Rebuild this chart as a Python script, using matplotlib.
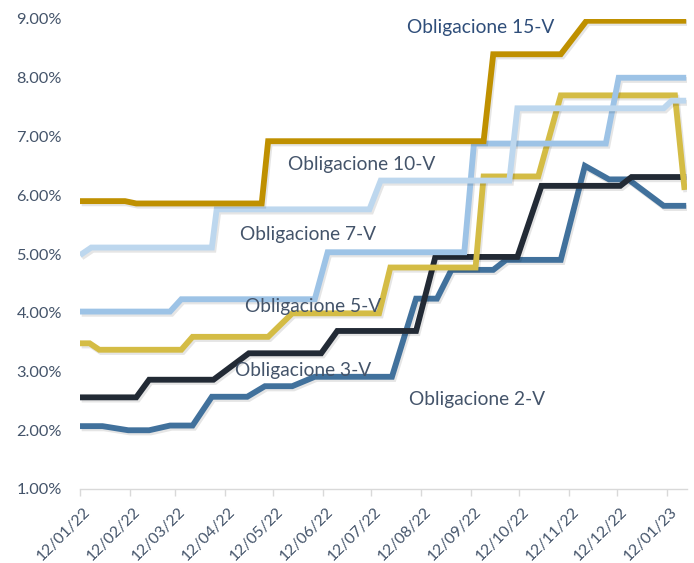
import matplotlib
matplotlib.use("Agg")
import matplotlib.pyplot as plt
import matplotlib.dates as mdates
import matplotlib.patheffects as pe
import matplotlib.transforms as mtransforms
import pandas as pd

plt.rcParams['font.family'] = ['Lato', 'DejaVu Sans']

# --- data (breakpoints) ---
dates_2v = ["2022-01-12", "2022-01-26", "2022-02-11", "2022-02-24", "2022-03-09", "2022-03-23",
            "2022-04-04", "2022-04-26", "2022-05-07", "2022-05-24", "2022-06-07", "2022-07-25",
            "2022-08-09", "2022-08-22", "2022-08-31", "2022-09-26", "2022-10-04", "2022-11-07",
            "2022-11-22", "2022-12-07", "2022-12-19", "2023-01-10", "2023-01-24"]
vals_2v = [2.07, 2.07, 2.00, 2.00, 2.08, 2.08,
           2.57, 2.57, 2.75, 2.75, 2.91, 2.91,
           4.24, 4.24, 4.73, 4.73, 4.90, 4.90,
           6.50, 6.27, 6.27, 5.82, 5.82]

dates_3v = ["2022-01-12", "2022-02-16", "2022-02-24", "2022-04-05", "2022-04-27", "2022-06-11",
            "2022-06-21", "2022-08-09", "2022-08-21", "2022-10-11", "2022-10-26", "2022-12-14",
            "2022-12-21", "2023-01-24"]
vals_3v = [2.56, 2.56, 2.86, 2.86, 3.31, 3.31,
           3.69, 3.69, 4.95, 4.95, 6.16, 6.16,
           6.31, 6.31]

dates_5v = ["2022-01-12", "2022-01-18", "2022-01-24", "2022-03-16", "2022-03-23", "2022-05-09",
            "2022-05-24", "2022-07-17", "2022-07-24", "2022-09-15", "2022-09-20", "2022-10-24",
            "2022-11-07", "2023-01-17", "2023-01-23"]
vals_5v = [3.48, 3.48, 3.37, 3.37, 3.59, 3.59,
           3.99, 3.99, 4.77, 4.77, 6.32, 6.32,
           7.70, 7.70, 6.09]

dates_7v = ["2022-01-12", "2022-03-09", "2022-03-16", "2022-06-07", "2022-06-15", "2022-09-08",
            "2022-09-14", "2022-12-05", "2022-12-13", "2023-01-24"]
vals_7v = [4.02, 4.02, 4.23, 4.23, 5.03, 5.03,
           6.88, 6.88, 8.00, 8.00]

dates_10v = ["2022-01-12", "2022-01-19", "2022-04-04", "2022-04-07", "2022-07-11", "2022-07-18",
             "2022-10-06", "2022-10-11", "2023-01-10", "2023-01-15", "2023-01-24"]
vals_10v = [4.98, 5.11, 5.11, 5.76, 5.76, 6.25,
            6.25, 7.48, 7.48, 7.61, 7.61]

dates_15v = ["2022-01-12", "2022-02-09", "2022-02-16", "2022-05-05", "2022-05-09", "2022-09-20",
             "2022-09-26", "2022-11-07", "2022-11-23", "2023-01-24"]
vals_15v = [5.90, 5.90, 5.86, 5.86, 6.92, 6.92,
            8.40, 8.40, 8.97, 8.97]

series_names = ["Obligacione 2-V", "Obligacione 3-V", "Obligacione 5-V",
                "Obligacione 7-V", "Obligacione 10-V", "Obligacione 15-V"]
series_dates = [dates_2v, dates_3v, dates_5v, dates_7v, dates_10v, dates_15v]
series_vals = [vals_2v, vals_3v, vals_5v, vals_7v, vals_10v, vals_15v]
colors = ["#41719C", "#222A35", "#D4BC45", "#9DC3E6", "#BDD7EE", "#BF9000"]

tick_dates = ["2022-01-12", "2022-02-12", "2022-03-12", "2022-04-12", "2022-05-12",
              "2022-06-12", "2022-07-12", "2022-08-12", "2022-09-12", "2022-10-12",
              "2022-11-12", "2022-12-12", "2023-01-12"]

# label positions (data coords) and colours
label_pos = [("2022-09-16", 2.52), ("2022-05-31", 3.01), ("2022-06-06", 4.11),
             ("2022-06-03", 5.33), ("2022-07-06", 6.53), ("2022-09-18", 8.86)]
label_colors = ["#44546A", "#44546A", "#44546A", "#44546A", "#44546A", "#2F4E7A"]

fig = plt.figure(figsize=(6.94, 5.63), dpi=100)
ax = fig.add_axes([80/694, 1-489/563, (687-80)/694, (489-19)/563])

shadow = [pe.SimpleLineShadow(offset=(1.2, -1.6), shadow_color="black", alpha=0.10),
          pe.Normal()]
for d, v, c in zip(series_dates, series_vals, colors):
    ax.plot(pd.to_datetime(d), v, color=c, lw=4.2, solid_joinstyle="miter",
            solid_capstyle="butt", path_effects=shadow)

for name, (d, y), lc in zip(series_names, label_pos, label_colors):
    ax.text(pd.Timestamp(d), y, name, color=lc, fontsize=13.8, ha="center", va="center")

ax.set_xlim(pd.Timestamp("2022-01-12"), pd.Timestamp("2023-01-24 12:00"))
ax.set_ylim(1, 9)
ax.set_yticks([1, 2, 3, 4, 5, 6, 7, 8, 9])
ax.yaxis.set_major_formatter(matplotlib.ticker.FuncFormatter(lambda v, p: f"{v:.2f}%"))
ax.set_xticks(pd.to_datetime(tick_dates))
ax.xaxis.set_major_formatter(mdates.DateFormatter("%d/%m/%y"))

for s in ["top", "right", "left"]:
    ax.spines[s].set_visible(False)
ax.spines["bottom"].set_color("#D9D9D9")
ax.spines["bottom"].set_linewidth(1.0)
ax.tick_params(axis="y", length=0, pad=13, labelsize=11.8, labelcolor="#44546A")
ax.tick_params(axis="x", length=5, color="#D9D9D9", width=1.0, labelsize=11.3,
               labelcolor="#44546A", pad=4)
offset = mtransforms.ScaledTranslation(3/100, -3/100, fig.dpi_scale_trans)
for lab in ax.get_xticklabels():
    lab.set_rotation(45)
    lab.set_ha("right")
    lab.set_va("top")
    lab.set_rotation_mode("anchor")
    lab.set_transform(lab.get_transform() + offset)

fig.savefig("out.png", dpi=100)
